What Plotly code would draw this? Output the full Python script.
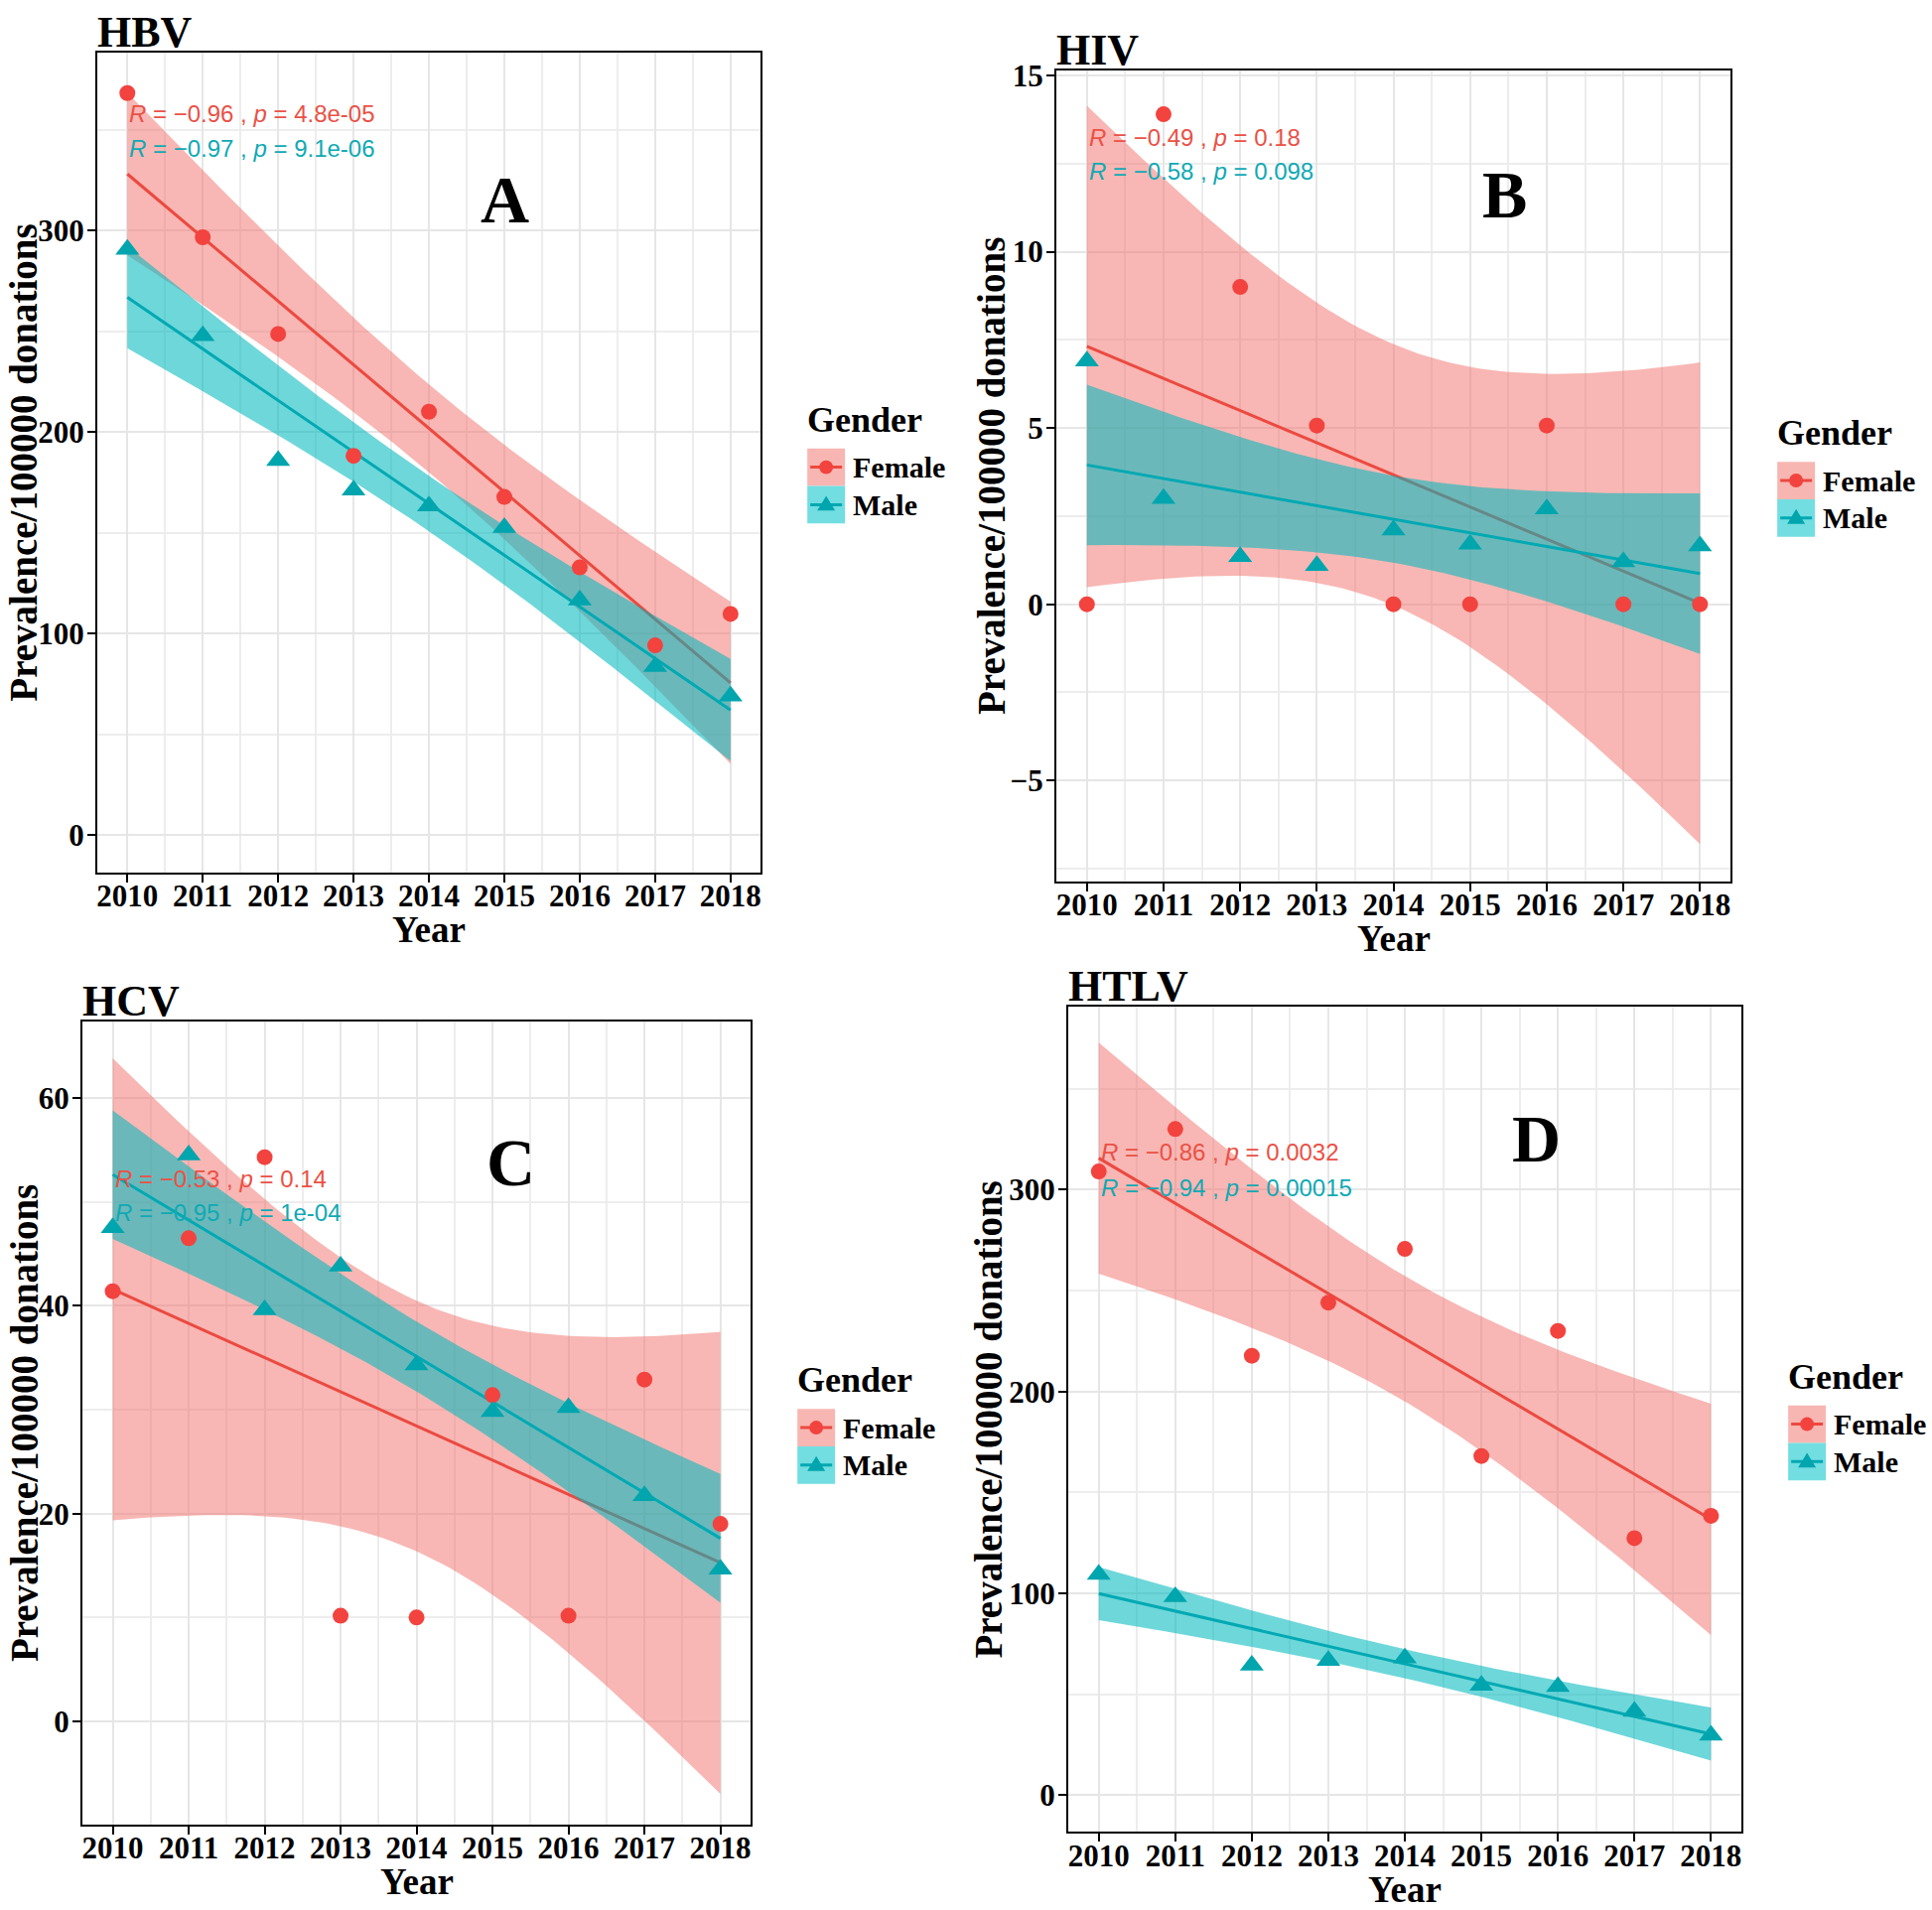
import numpy as np
import plotly.graph_objects as go

# ---------------- data ----------------
years = [2010, 2011, 2012, 2013, 2014, 2015, 2016, 2017, 2018]

hbv_female = [368.3, 296.7, 248.7, 188.2, 210.1, 167.8, 132.8, 94.1, 109.7]
hbv_male = [290.7, 247.8, 185.8, 171.1, 163.3, 152.5, 116.6, 83.6, 68.9]

hiv_female = [0.0, 13.9, 9.0, 5.07, 0.0, 0.0, 5.07, 0.0, 0.0]
hiv_male = [6.9, 3.0, 1.35, 1.1, 2.1, 1.7, 2.7, 1.2, 1.65]

hcv_female = [41.4, 46.5, 54.3, 10.16, 10.0, 31.4, 10.16, 32.9, 19.0]
hcv_male = [47.5, 54.5, 39.6, 43.8, 34.3, 29.8, 30.2, 21.7, 14.65]

htlv_female = [309.0, 330.0, 217.7, 244.0, 270.6, 168.0, 230.0, 127.3, 138.4]
htlv_male = [109.3, 98.2, 64.3, 66.7, 67.9, 54.4, 53.8, 41.4, 29.7]

virus_titles = ["HBV", "HIV", "HCV", "HTLV"]
panel_letters = ["A", "B", "C", "D"]
stats_female = ["<i>R</i> = \u22120.96 , <i>p</i> = 4.8e-05",
                "<i>R</i> = \u22120.49 , <i>p</i> = 0.18",
                "<i>R</i> = \u22120.53 , <i>p</i> = 0.14",
                "<i>R</i> = \u22120.86 , <i>p</i> = 0.0032"]
stats_male = ["<i>R</i> = \u22120.97 , <i>p</i> = 9.1e-06",
              "<i>R</i> = \u22120.58 , <i>p</i> = 0.098",
              "<i>R</i> = \u22120.95 , <i>p</i> = 1e-04",
              "<i>R</i> = \u22120.94 , <i>p</i> = 0.00015"]
legend_labels = ["Female", "Male"]

# ---------------- styling / layout ----------------
W, H = 1946, 1924
RED_PT = "#F2433F"
RED_LINE = "#EC4940"
TEAL_PT = "#00A5AE"
TEAL_LINE = "#00A9B3"
RED_FILL = "rgba(242,112,106,0.5)"
TEAL_FILL = "rgba(0,185,190,0.57)"
RED_KEY = "#F8B6B2"
TEAL_KEY = "#72DEE1"
RED_TXT = "#EA5146"
TEAL_TXT = "#10A9B4"
SERIF = "Liberation Serif"
SANS = "Liberation Sans"
T95 = 2.3646  # t quantile, df = 7

# panel geometry in pixels: left, right, top, bottom
panels = [
    dict(px=(97, 766, 41, 872), yr=(-18.5, 388.5), dt=100, mdt=50, mt0=50,
         ytitle_x=23, stat_y=(358.2, 341.0), letter=(2015.0, 315.6)),
    dict(px=(1064, 1744, 59, 881), yr=(-7.85, 15.15), dt=5, mdt=2.5, mt0=-7.5,
         ytitle_x=998, stat_y=(13.25, 12.27), letter=(2015.45, 11.62)),
    dict(px=(82, 756, 1023, 1837), yr=(-9.9, 67.4), dt=20, mdt=10, mt0=-10,
         ytitle_x=23, stat_y=(52.2, 49.0), letter=(2015.24, 53.8)),
    dict(px=(1076, 1755, 1008, 1845), yr=(-18.3, 390.8), dt=100, mdt=50, mt0=50,
         ytitle_x=996, stat_y=(318.5, 301.0), letter=(2015.72, 325.3)),
]
female_data = [hbv_female, hiv_female, hcv_female, htlv_female]
male_data = [hbv_male, hiv_male, hcv_male, htlv_male]


def px2x(px):
    return px / W


def px2y(py):
    return 1 - py / H


def smooth(xs, ys):
    x = np.asarray(xs, float)
    y = np.asarray(ys, float)
    n = len(x)
    b1, b0 = np.polyfit(x, y, 1)
    resid = y - (b0 + b1 * x)
    s = np.sqrt(np.sum(resid ** 2) / (n - 2))
    xg = np.linspace(x.min(), x.max(), 80)
    fit = b0 + b1 * xg
    se = s * np.sqrt(1 / n + (xg - x.mean()) ** 2 / np.sum((x - x.mean()) ** 2))
    return xg, fit, fit - T95 * se, fit + T95 * se


fig = go.Figure()
shapes = []
annotations = []
layout_axes = {}

for i, p in enumerate(panels):
    k = "" if i == 0 else str(i + 1)
    xa, ya = "x" + k, "y" + k
    l, r, t, b = p["px"]

    # smoother ribbons and lines (female first, then male, like ggplot groups)
    for data, fill, lcol in ((female_data[i], RED_FILL, RED_LINE),
                             (male_data[i], TEAL_FILL, TEAL_LINE)):
        xg, fit, lo, up = smooth(years, data)
        fig.add_trace(go.Scatter(
            x=list(xg) + list(xg[::-1]), y=list(up) + list(lo[::-1]),
            fill="toself", fillcolor=fill, mode="lines", line=dict(width=0, color=fill),
            hoverinfo="skip", showlegend=False, xaxis=xa, yaxis=ya))
        fig.add_trace(go.Scatter(
            x=xg, y=fit, mode="lines", line=dict(color=lcol, width=3),
            hoverinfo="skip", showlegend=False, xaxis=xa, yaxis=ya))

    fig.add_trace(go.Scatter(
        x=years, y=female_data[i], mode="markers",
        marker=dict(symbol="circle", size=16, color=RED_PT),
        showlegend=False, xaxis=xa, yaxis=ya, name="Female"))
    fig.add_trace(go.Scatter(
        x=years, y=male_data[i], mode="markers",
        marker=dict(symbol="triangle-up", size=21, color=TEAL_PT),
        showlegend=False, xaxis=xa, yaxis=ya, name="Male"))

    tickfont = dict(family=SERIF, size=31, color="black", weight="bold")
    common = dict(showline=True, mirror=True, linecolor="black", linewidth=2,
                  ticks="outside", ticklen=8, tickwidth=2, tickcolor="black",
                  showgrid=True, gridcolor="#E6E6E6", gridwidth=2, zeroline=False,
                  tickfont=tickfont)
    layout_axes["xaxis" + k] = dict(
        domain=[px2x(l), px2x(r)], range=[2009.6, 2018.4], anchor=ya,
        tickmode="array", tickvals=years, ticktext=[str(v) for v in years],
        ticklabelstandoff=-13,
        minor=dict(tickmode="linear", tick0=2009.5, dtick=0.5, showgrid=True,
                   gridcolor="#EDEDED", gridwidth=1.5, ticks=""),
        **common)
    layout_axes["yaxis" + k] = dict(
        domain=[px2y(b), px2y(t)], range=list(p["yr"]), anchor=xa,
        tickmode="linear", tick0=0, dtick=p["dt"], ticklabelstandoff=-3,
        minor=dict(tickmode="linear", tick0=p["mt0"], dtick=p["mdt"], showgrid=True,
                   gridcolor="#EDEDED", gridwidth=1.5, ticks=""),
        **common)

    # correlation labels
    annotations.append(dict(xref=xa, yref=ya, x=2010, y=p["stat_y"][0],
                            text=stats_female[i], showarrow=False, xanchor="left",
                            yanchor="middle", font=dict(family=SANS, size=24, color=RED_TXT)))
    annotations.append(dict(xref=xa, yref=ya, x=2010, y=p["stat_y"][1],
                            text=stats_male[i], showarrow=False, xanchor="left",
                            yanchor="middle", font=dict(family=SANS, size=24, color=TEAL_TXT)))
    # panel letter
    annotations.append(dict(xref=xa, yref=ya, x=p["letter"][0], y=p["letter"][1],
                            text="<b>" + panel_letters[i] + "</b>", showarrow=False,
                            xanchor="center", yanchor="middle",
                            font=dict(family=SERIF, size=68, color="black")))
    # title
    annotations.append(dict(xref="paper", yref="paper", x=px2x(l - 2), y=px2y(t),
                            text="<b>" + virus_titles[i] + "</b>", showarrow=False,
                            xanchor="left", yanchor="bottom", yshift=-6,
                            font=dict(family=SERIF, size=44, color="black")))
    # axis titles
    cy = (t + b) / 2
    annotations.append(dict(xref="paper", yref="paper", x=px2x(p["ytitle_x"]), y=px2y(cy),
                            text="<b>Prevalence/100000 donations</b>", showarrow=False,
                            textangle=-90, xanchor="center", yanchor="middle",
                            font=dict(family=SERIF, size=39, color="black")))
    annotations.append(dict(xref="paper", yref="paper", x=px2x((l + r) / 2), y=px2y(b + 58),
                            text="<b>Year</b>", showarrow=False,
                            xanchor="center", yanchor="middle",
                            font=dict(family=SERIF, size=37, color="black")))

    # legend (drawn manually, one per panel)
    kl = r + 47
    ks = 38
    ftop = cy - 14
    annotations.append(dict(xref="paper", yref="paper", x=px2x(kl - 2), y=px2y(cy - 43),
                            text="<b>Gender</b>", showarrow=False,
                            xanchor="left", yanchor="middle",
                            font=dict(family=SERIF, size=36, color="black")))
    for j, (kfill, lcol, pcol) in enumerate(((RED_KEY, RED_LINE, RED_PT),
                                             (TEAL_KEY, TEAL_LINE, TEAL_PT))):
        top = ftop + j * ks
        kc = top + ks / 2
        shapes.append(dict(type="rect", xref="paper", yref="paper",
                           x0=px2x(kl), x1=px2x(kl + ks), y0=px2y(top + ks), y1=px2y(top),
                           fillcolor=kfill, line=dict(width=0), layer="above"))
        shapes.append(dict(type="line", xref="paper", yref="paper",
                           x0=px2x(kl + 3), x1=px2x(kl + ks - 3), y0=px2y(kc), y1=px2y(kc),
                           line=dict(color=lcol, width=3), layer="above"))
        cx = kl + ks / 2
        if j == 0:
            rr = 7
            shapes.append(dict(type="circle", xref="paper", yref="paper",
                               x0=px2x(cx - rr), x1=px2x(cx + rr),
                               y0=px2y(kc + rr), y1=px2y(kc - rr),
                               fillcolor=pcol, line=dict(width=0), layer="above"))
        else:
            path = "M {:.6f},{:.6f} L {:.6f},{:.6f} L {:.6f},{:.6f} Z".format(
                px2x(cx), px2y(kc - 9), px2x(cx - 9), px2y(kc + 6), px2x(cx + 9), px2y(kc + 6))
            shapes.append(dict(type="path", xref="paper", yref="paper", path=path,
                               fillcolor=pcol, line=dict(width=0), layer="above"))
        annotations.append(dict(xref="paper", yref="paper", x=px2x(kl + ks + 6), y=px2y(kc),
                                text="<b>" + legend_labels[j] + "</b>", showarrow=False,
                                xanchor="left", yanchor="middle",
                                font=dict(family=SERIF, size=30, color="black")))

fig.update_layout(
    width=W, height=H, margin=dict(l=0, r=0, t=0, b=0),
    paper_bgcolor="white", plot_bgcolor="white", showlegend=False,
    shapes=shapes, annotations=annotations, **layout_axes)

fig.write_html("out.html", config={"displayModeBar": False},
               post_script="document.body.style.margin='0px';document.body.style.overflow='hidden';")
